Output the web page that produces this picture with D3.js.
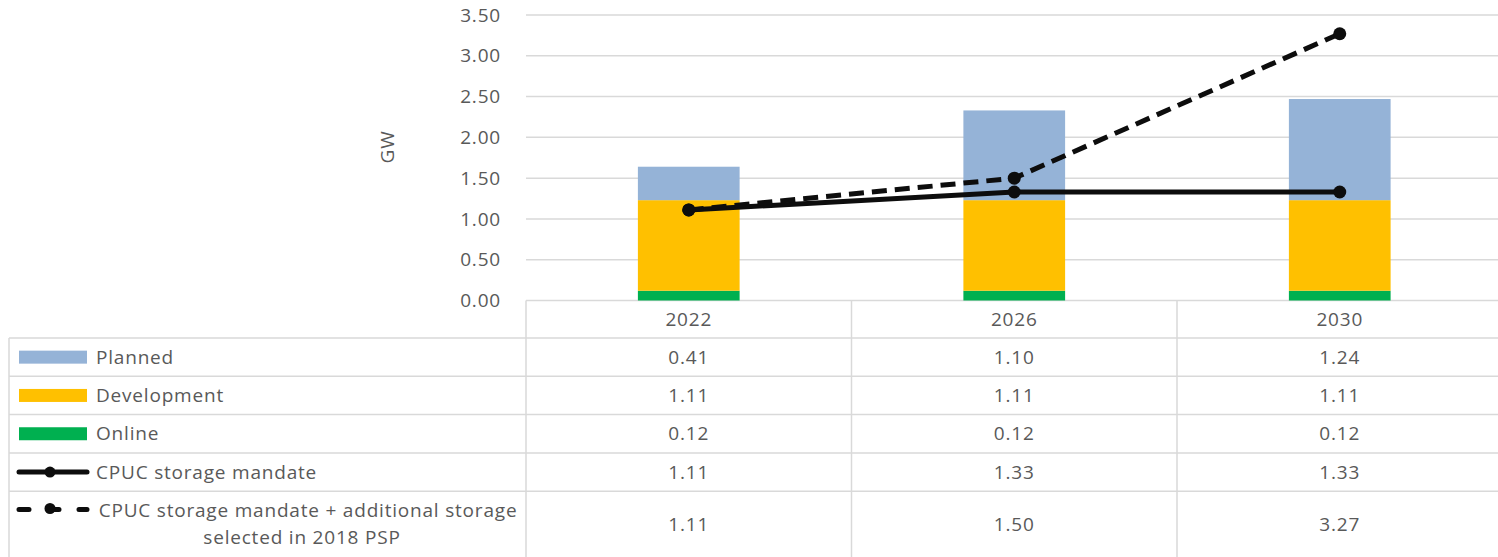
<!DOCTYPE html>
<html>
<head>
<meta charset="utf-8">
<script src="https://cdn.jsdelivr.net/npm/d3@7"></script>
<style>
  html, body { margin: 0; padding: 0; background: #fff; }
  svg { display: block; }
  text { font-family: "Open Sans", sans-serif; fill: #595959; }
</style>
</head>
<body>
<svg id="chart" width="1498" height="557"></svg>
<script>
// Storage capacity by year (GW)
const categories = ["2022", "2026", "2030"];
const planned = [0.41, 1.10, 1.24];
const development = [1.11, 1.11, 1.11];
const online = [0.12, 0.12, 0.12];
const mandate = [1.11, 1.33, 1.33];
const mandatePlus = [1.11, 1.50, 3.27];
const yTicks = [0, 0.5, 1.0, 1.5, 2.0, 2.5, 3.0, 3.5];

const seriesNames = {
  planned: "Planned",
  development: "Development",
  online: "Online",
  mandate: "CPUC storage mandate",
  mandatePlus: ["CPUC storage mandate + additional storage", "selected in 2018 PSP"]
};
const colors = { planned: "#95b3d7", development: "#ffc000", online: "#00b050", line: "#0d0d0d" };
const gridColor = "#d9d9d9";

const svg = d3.select("#chart");

const plotLeft = 526, plotRight = 1502.5, plotTop = 15, plotBottom = 300.5;
const x = d3.scaleBand().domain(categories).range([plotLeft, plotRight]).padding(0);
const y = d3.scaleLinear().domain([0, 3.5]).range([plotBottom, plotTop]);
const barW = x.bandwidth() * 0.3125;
const cx = c => x(c) + x.bandwidth() / 2;

// Gridlines
svg.append("g").selectAll("line").data(yTicks).join("line")
  .attr("x1", plotLeft).attr("x2", plotRight)
  .attr("y1", d => y(d)).attr("y2", d => y(d))
  .attr("stroke", gridColor).attr("stroke-width", 1.5);

// Y axis labels
svg.append("g").selectAll("text").data(yTicks).join("text")
  .attr("x", 501).attr("y", d => y(d))
  .attr("dy", "0.35em").attr("text-anchor", "end")
  .style("font-size", "19px").style("letter-spacing", "0.8px")
  .text(d => d.toFixed(2));

svg.append("text")
  .attr("transform", "translate(387,147) rotate(-90)")
  .attr("text-anchor", "middle").attr("dy", "0.35em")
  .style("font-size", "19px").style("letter-spacing", "0.8px")
  .text("GW");

// Stacked bars
const rows = categories.map((c, i) => ({ cat: c, online: online[i], development: development[i], planned: planned[i] }));
const stack = d3.stack().keys(["online", "development", "planned"])(rows);
svg.append("g").selectAll("g").data(stack).join("g")
  .attr("fill", d => colors[d.key])
  .selectAll("rect").data(d => d).join("rect")
  .attr("x", d => cx(d.data.cat) - barW / 2)
  .attr("width", barW)
  .attr("y", d => y(d[1]))
  .attr("height", d => y(d[0]) - y(d[1]));

// Lines
const lineGen = d3.line().x(d => cx(d.c)).y(d => y(d.v));
function drawLine(values, dashed) {
  const pts = categories.map((c, i) => ({ c, v: values[i] }));
  svg.append("path").datum(pts)
    .attr("d", lineGen)
    .attr("fill", "none").attr("stroke", colors.line)
    .attr("stroke-width", 5)
    .attr("stroke-linecap", dashed ? "butt" : "round")
    .attr("stroke-dasharray", dashed ? "15,8" : null);
  svg.append("g").selectAll("circle").data(pts).join("circle")
    .attr("cx", d => cx(d.c)).attr("cy", d => y(d.v)).attr("r", 6.5)
    .attr("fill", colors.line);
}
drawLine(mandate, false);
drawLine(mandatePlus, true);

// Data table
const tableLeft = 9, tableRight = 1502.5;
const headerTop = plotBottom;
const rowTops = [338, 376.3, 414.6, 452.9, 491.2];
const tableBottom = 560;
const grid = svg.append("g").attr("stroke", gridColor).attr("stroke-width", 1.5);

rowTops.forEach(t => grid.append("line").attr("x1", tableLeft).attr("x2", tableRight).attr("y1", t).attr("y2", t));
grid.append("line").attr("x1", tableLeft).attr("x2", tableLeft).attr("y1", rowTops[0]).attr("y2", tableBottom);
categories.forEach(c => grid.append("line")
  .attr("x1", x(c)).attr("x2", x(c)).attr("y1", headerTop).attr("y2", tableBottom));

// Header labels
svg.append("g").selectAll("text").data(categories).join("text")
  .attr("x", d => cx(d)).attr("y", (headerTop + rowTops[0]) / 2).attr("dy", "0.35em")
  .attr("text-anchor", "middle")
  .style("font-size", "19px").style("letter-spacing", "0.8px")
  .text(d => d);

const tableRows = [
  { key: "planned", values: planned, type: "bar" },
  { key: "development", values: development, type: "bar" },
  { key: "online", values: online, type: "bar" },
  { key: "mandate", values: mandate, type: "solid" },
  { key: "mandatePlus", values: mandatePlus, type: "dashed" }
];

tableRows.forEach((r, i) => {
  const top = rowTops[i];
  const bottom = i < rowTops.length - 1 ? rowTops[i + 1] : 557;
  const mid = (top + bottom) / 2;
  const g = svg.append("g");
  // legend key
  if (r.type === "bar") {
    g.append("rect").attr("x", 19).attr("y", mid - 6.5).attr("width", 68).attr("height", 13)
      .attr("fill", colors[r.key]);
  } else if (r.type === "solid") {
    g.append("line").attr("x1", 19).attr("x2", 87).attr("y1", mid).attr("y2", mid)
      .attr("stroke", colors.line).attr("stroke-width", 5).attr("stroke-linecap", "round");
    g.append("circle").attr("cx", 50).attr("cy", mid).attr("r", 5.5).attr("fill", colors.line);
  } else {
    const ly = 509.5;
    g.append("line").attr("x1", 19).attr("x2", 87).attr("y1", ly).attr("y2", ly)
      .attr("stroke", colors.line).attr("stroke-width", 5).attr("stroke-linecap", "round")
      .attr("stroke-dasharray", "10,20");
    g.append("circle").attr("cx", 50).attr("cy", ly - 1).attr("r", 5.5).attr("fill", colors.line);
  }
  // series name
  if (Array.isArray(seriesNames[r.key])) {
    const lines = seriesNames[r.key];
    g.append("text").attr("x", 308).attr("y", 510).attr("dy", "0.35em").attr("text-anchor", "middle")
      .style("font-size", "19px").style("letter-spacing", "0.8px").text(lines[0]);
    g.append("text").attr("x", 302).attr("y", 537).attr("dy", "0.35em").attr("text-anchor", "middle")
      .style("font-size", "19px").style("letter-spacing", "0.8px").text(lines[1]);
  } else {
    g.append("text").attr("x", 96).attr("y", mid).attr("dy", "0.35em")
      .style("font-size", "19px").style("letter-spacing", "0.8px").text(seriesNames[r.key]);
  }
  // values
  g.selectAll("text.val").data(r.values).join("text").attr("class", "val")
    .attr("x", (d, j) => cx(categories[j])).attr("y", mid).attr("dy", "0.35em")
    .attr("text-anchor", "middle")
    .style("font-size", "19px").style("letter-spacing", "0.8px")
    .text(d => d.toFixed(2));
});
</script>
</body>
</html>
